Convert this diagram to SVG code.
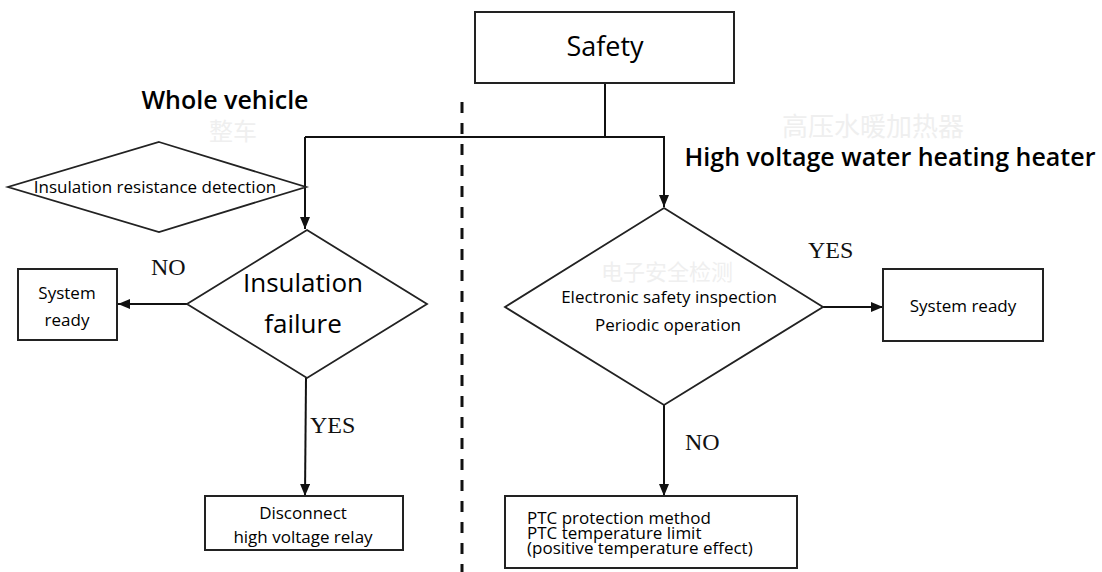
<svg xmlns="http://www.w3.org/2000/svg" width="1102" height="572" viewBox="0 0 1102 572">
<style>
.box{fill:#fff;stroke:#222;stroke-width:2}
.sh{fill:none;stroke:#222;stroke-width:1.8}
.ln{fill:none;stroke:#111;stroke-width:2}
.t{font-family:"Open Sans","Noto Sans",sans-serif;fill:#000;text-anchor:middle}
.tl{font-family:"Open Sans","Noto Sans",sans-serif;fill:#000;text-anchor:start;font-size:17px}
.lab{font-family:"Liberation Serif",serif;font-size:24px;fill:#111}
.ghost{font-family:"Noto Sans CJK SC",sans-serif;fill:#efefef;text-anchor:middle}
</style>
<defs>
<marker id="ah" markerWidth="12" markerHeight="10" refX="12" refY="5" orient="auto" markerUnits="userSpaceOnUse">
<path d="M0,0 L12,5 L0,10 Z" fill="#111"/>
</marker>
</defs>
<rect width="1102" height="572" fill="#fff"/>
<g id="ghost-text">
<text class="ghost" x="620" y="29" font-size="18">安全</text>
<text class="ghost" x="233" y="140" font-size="24">整车</text>
<text class="ghost" x="873" y="136" font-size="26">高压水暖加热器</text>
<text class="ghost" x="667" y="280" font-size="22">电子安全检测</text>
<text class="ghost" x="955" y="297" font-size="20">就绪</text>
<text class="ghost" x="305" y="528" font-size="20">断开高压继电器</text>
</g>
<g id="divider">
<line x1="462" y1="102" x2="462" y2="572" stroke="#111" stroke-width="3" stroke-dasharray="11,10"/>
</g>
<g id="headings">
<text class="t" x="225" y="109" font-size="25" font-weight="600">Whole vehicle</text>
<text class="t" x="890" y="166" font-size="25" font-weight="600">High voltage water heating heater</text>
</g>
<g id="connectors">
<line class="ln" x1="605" y1="83" x2="605" y2="137"/>
<polyline class="ln" points="305,137 664,137 664,207" marker-end="url(#ah)"/>
<line class="ln" x1="305" y1="137" x2="305" y2="229" marker-end="url(#ah)"/>
<line class="ln" x1="187" y1="304" x2="118" y2="304" marker-end="url(#ah)"/>
<line class="ln" x1="306" y1="378" x2="305" y2="496" marker-end="url(#ah)"/>
<line class="ln" x1="823" y1="307" x2="883" y2="307" marker-end="url(#ah)"/>
<line class="ln" x1="664" y1="405" x2="664" y2="496" marker-end="url(#ah)"/>
<text class="lab" x="151" y="275">NO</text>
<text class="lab" x="310" y="433">YES</text>
<text class="lab" x="808" y="258">YES</text>
<text class="lab" x="685" y="450">NO</text>
</g>
<g id="safety">
<rect class="box" x="475" y="12" width="259" height="71"/>
<text class="t" x="605" y="56" font-size="27">Safety</text>
</g>
<g id="insulation-resistance-detection">
<polygon class="sh" points="159,142 306,187 159,232 8,187"/>
<text class="t" x="155" y="193" font-size="17">Insulation resistance detection</text>
</g>
<g id="insulation-failure">
<polygon class="sh" points="307,230 427,304 307,378 187,304"/>
<text class="t" x="303" y="292" font-size="26">Insulation</text>
<text class="t" x="303" y="333" font-size="26">failure</text>
</g>
<g id="system-ready-left">
<rect class="box" x="18" y="269" width="99" height="71"/>
<text class="t" x="67" y="299" font-size="17">System</text>
<text class="t" x="67" y="326" font-size="17">ready</text>
</g>
<g id="disconnect-relay">
<rect class="box" x="205" y="496" width="198" height="54"/>
<text class="t" x="303" y="519" font-size="17">Disconnect</text>
<text class="t" x="303" y="543" font-size="17">high voltage relay</text>
</g>
<g id="electronic-safety-inspection">
<polygon class="sh" points="664,208 823,307 664,405 505,307"/>
<text class="t" x="669" y="303" font-size="17">Electronic safety inspection</text>
<text class="t" x="668" y="331" font-size="17">Periodic operation</text>
</g>
<g id="system-ready-right">
<rect class="box" x="883" y="269" width="160" height="72"/>
<text class="t" x="963" y="312" font-size="17">System ready</text>
</g>
<g id="ptc-protection">
<rect class="box" x="505" y="496" width="292" height="72"/>
<text class="tl" x="527" y="524">PTC protection method</text>
<text class="tl" x="527" y="539">PTC temperature limit</text>
<text class="tl" x="527" y="554">(positive temperature effect)</text>
</g>
</svg>
